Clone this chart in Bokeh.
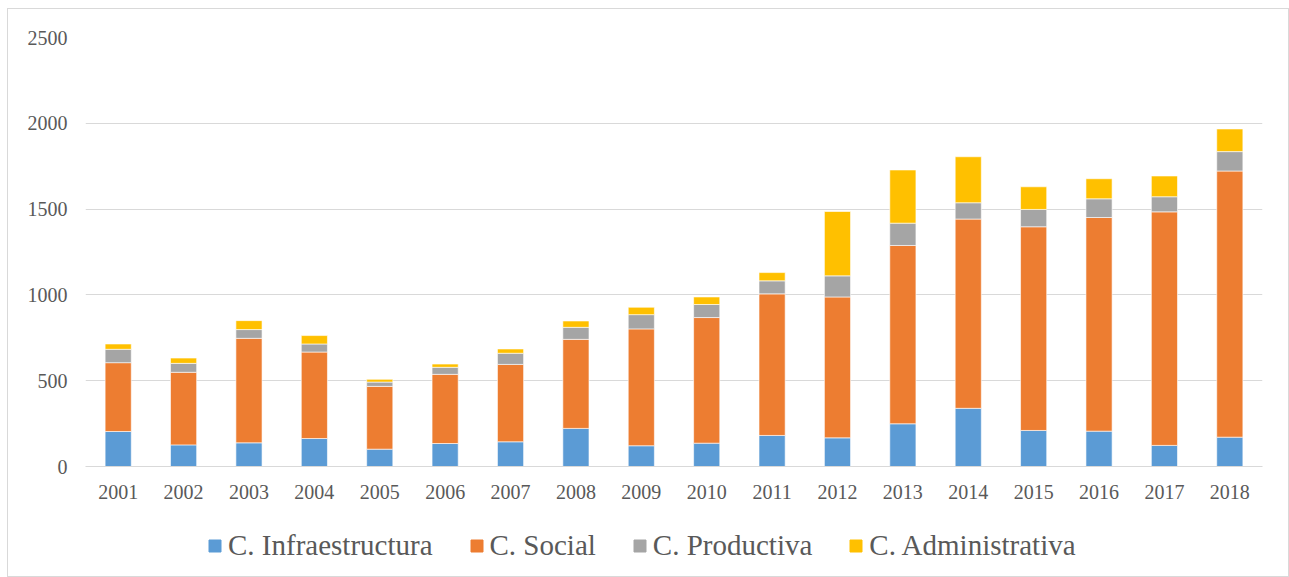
from bokeh.plotting import figure
from bokeh.layouts import column
from bokeh.models import FixedTicker, Legend, LegendItem, Range1d, FactorRange
from bokeh.embed import file_html
from bokeh.resources import INLINE

years = ["2001", "2002", "2003", "2004", "2005", "2006", "2007", "2008", "2009",
         "2010", "2011", "2012", "2013", "2014", "2015", "2016", "2017", "2018"]
infraestructura = [204, 126, 138, 163, 101, 134, 144, 222, 121, 136, 181, 167, 249, 339, 210, 206, 123, 171]
social = [401, 423, 609, 504, 366, 403, 451, 519, 681, 732, 825, 821, 1039, 1103, 1187, 1245, 1361, 1551]
productiva = [78, 52, 51, 47, 25, 41, 65, 70, 83, 76, 76, 123, 130, 95, 101, 109, 88, 113]
administrativa = [31, 31, 52, 49, 16, 19, 25, 37, 43, 44, 48, 375, 310, 268, 132, 117, 121, 132]

series = ["C. Infraestructura", "C. Social", "C. Productiva", "C. Administrativa"]
keys = ["infra", "social", "prod", "admin"]
colors = ["#5B9BD5", "#ED7D31", "#A5A5A5", "#FFC000"]
y_ticks = [0, 500, 1000, 1500, 2000, 2500]

data = dict(years=years, infra=infraestructura, social=social, prod=productiva, admin=administrativa)

FONT = "Liberation Serif"
TXT = "#595959"
GRID = "#d9d9d9"

p = figure(x_range=FactorRange(*years, range_padding=0), y_range=Range1d(0, 2500),
           width=1280, height=496, output_backend="svg", toolbar_location=None,
           min_border_left=77, min_border_right=26, min_border_top=28, min_border_bottom=39)

p.vbar_stack(keys, x="years", width=0.4, color=colors, source=data,
             line_color="white", line_alpha=0.6, line_width=1)

p.outline_line_color = None
p.xgrid.grid_line_color = None
p.ygrid.grid_line_color = GRID
p.ygrid.grid_line_width = 1
p.yaxis.ticker = FixedTicker(ticks=y_ticks)
p.yaxis.axis_line_color = None
p.yaxis.major_tick_line_color = None
p.yaxis.minor_tick_line_color = None
p.yaxis.major_label_standoff = 12
p.xaxis.axis_line_color = GRID
p.xaxis.major_tick_line_color = None
p.xaxis.major_label_standoff = 12
for ax in (p.xaxis, p.yaxis):
    ax.major_label_text_font = FONT
    ax.major_label_text_font_size = "20px"
    ax.major_label_text_color = TXT

# legend strip below the chart
lg = figure(x_range=FactorRange(*years), y_range=Range1d(0, 1),
            width=1280, height=71, output_backend="svg", toolbar_location=None,
            x_axis_location=None, y_axis_location=None,
            min_border_left=0, min_border_right=0, min_border_top=0, min_border_bottom=0)
lg.grid.visible = False
lg.outline_line_color = None
lrs = lg.vbar_stack(keys, x="years", width=0.4, color=colors, source=data, visible=False)

legend = Legend(items=[LegendItem(label=s, renderers=[r]) for s, r in zip(series, lrs)],
                orientation="horizontal", location=(122, 14),
                label_text_font=FONT, label_text_font_size="29px", label_text_color=TXT,
                glyph_width=15, glyph_height=15, label_standoff=6, spacing=36,
                border_line_color=None, background_fill_alpha=0, padding=0, margin=0)
lg.add_layout(legend, "center")

layout = column(p, lg, spacing=0, margin=(8, 0, 0, 7),
                styles={"border": "1px solid #d9d9d9"})
open("out.html", "w").write(file_html(layout, INLINE))
